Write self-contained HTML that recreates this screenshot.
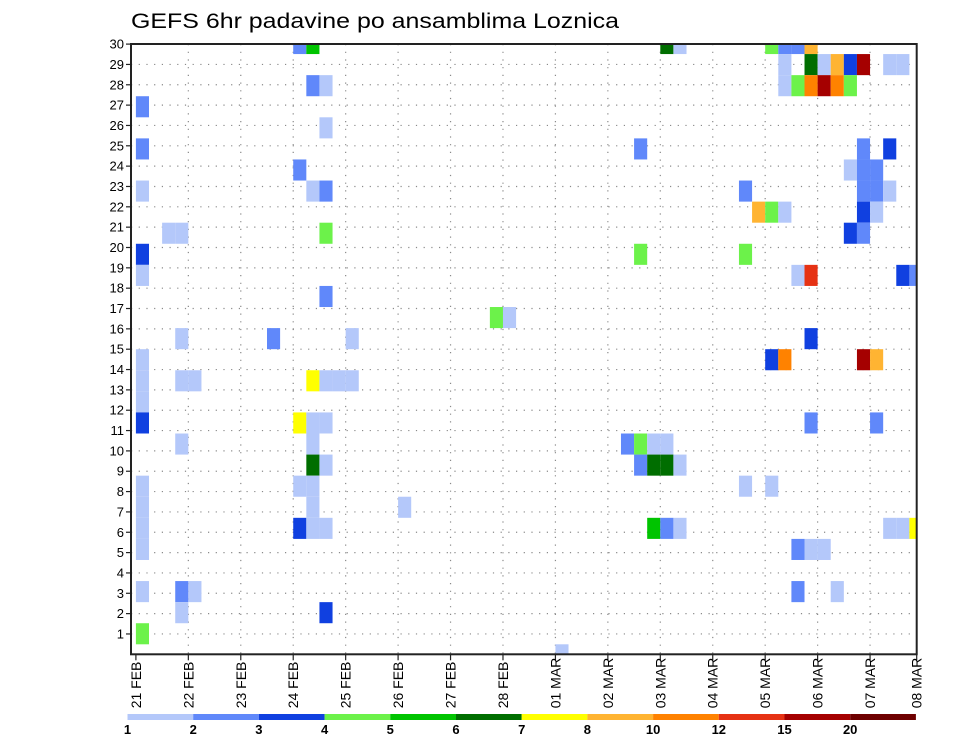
<!DOCTYPE html>
<html><head><meta charset="utf-8"><style>
html,body{margin:0;padding:0;background:#fff;}
svg{display:block;font-family:"Liberation Sans",sans-serif;}
</style></head><body>
<svg id="chart" width="960" height="742" viewBox="0 0 960 742" xmlns="http://www.w3.org/2000/svg">
<defs><clipPath id="pc"><rect x="131" y="44" width="785.7" height="610.3"/></clipPath></defs>
<text x="131" y="28" font-size="21" textLength="488" lengthAdjust="spacingAndGlyphs" fill="#000">GEFS 6hr padavine po ansamblima Loznica</text>
<g id="grid"></g>
<g id="cells" clip-path="url(#pc)"></g>
<rect x="131" y="44" width="785.7" height="610.3" fill="none" stroke="#222" stroke-width="2"/>
<g id="yaxis"></g>
<g id="xaxis"></g>
<g id="legend"></g>
</svg>
<script>
// ---- data ----
const dayLabels = ["21 FEB","22 FEB","23 FEB","24 FEB","25 FEB","26 FEB","27 FEB","28 FEB","01 MAR","02 MAR","03 MAR","04 MAR","05 MAR","06 MAR","07 MAR","08 MAR"];
const memberTicks = [1,2,3,4,5,6,7,8,9,10,11,12,13,14,15,16,17,18,19,20,21,22,23,24,25,26,27,28,29,30];
const levels = [1,2,3,4,5,6,7,8,10,12,15,20];
const colors = ["#b4c8fa","#6088fa","#1040e0","#6cf24a","#00c400","#006e00","#ffff00","#ffb432","#ff8200","#e63214","#a50000","#6e0000"];
// cell time step (6h index), ensemble member row, precipitation value
const cellStep = [12,13,13,14,0,14,0,12,0,13,14,2,3,14,0,0,14,3,10,16,0,0,0,0,0,0,0,0,0,0,3,4,13,14,15,16,12,13,14,3,13,13,14,12,13,13,12,13,14,3,4,3,14,
 20,27,28,32,38,38,37,38,39,40,38,39,40,41,39,40,41,
 40,41,48,49,50,51,49,51,52,53,54,55,57,58,49,50,51,52,53,54,55,57,54,55,56,46,55,56,57,47,48,49,55,56,54,55,46,50,51,58,59,51,48,49,55,56,51,56,46,48,57,58,59,50,51,52,50,53];
const cellMember = [29,29,27,27,26,25,24,23,22,22,22,20,20,20,19,18,17,15,15,15,14,13,12,11,8,7,6,5,3,1,13,13,13,13,13,13,11,11,11,10,10,9,9,8,8,7,6,6,6,3,3,2,2,
 7,16,16,0,24,19,10,10,10,10,9,9,9,9,6,6,6,
 29,29,29,29,29,29,28,28,28,28,28,28,28,28,27,27,27,27,27,27,24,24,23,23,23,22,22,22,22,21,21,21,21,21,20,20,19,18,18,18,18,15,14,14,14,14,11,11,8,8,6,6,6,5,5,5,3,3];
const cellValue = [2.5,5.5,2.5,1.5,2.5,1.5,2.5,2.5,1.5,1.5,2.5,1.5,1.5,4.5,3.5,1.5,2.5,1.5,2.5,1.5,1.5,1.5,1.5,3.5,1.5,1.5,1.5,1.5,1.5,4.5,1.5,1.5,7.5,1.5,1.5,1.5,7.5,1.5,1.5,1.5,1.5,6.5,1.5,1.5,1.5,1.5,3.5,1.5,1.5,2.5,1.5,1.5,3.5,
 1.5,4.5,1.5,1.5,2.5,4.5,2.5,4.5,1.5,1.5,2.5,6.5,6.5,1.5,5.5,2.5,1.5,
 6.5,1.5,4.5,2.5,2.5,9,1.5,6.5,1.5,9,3.5,17,1.5,1.5,1.5,4.5,11,17,11,4.5,2.5,3.5,1.5,2.5,2.5,2.5,2.5,2.5,1.5,9,4.5,1.5,3.5,1.5,3.5,2.5,4.5,1.5,13,3.5,2.5,3.5,3.5,11,17,9,2.5,2.5,1.5,1.5,1.5,1.5,7.5,2.5,1.5,1.5,2.5,1.5];

// ---- scales ----
const NS="http://www.w3.org/2000/svg";
const X0=135.9, DAYW=52.44, STEPW=DAYW/4;
const PL=131, PR=916.7, PT=44, PB=654.3;
function xDay(d){return X0+d*DAYW;}
function xStep(s){return X0+s*STEPW;}
function yTick(r){return PB-20.34*r;}
const CELLH=21.08, CELLB1=644.3;
function yCellTop(m){return CELLB1-CELLH*(m-1)-CELLH;}
function colorFor(v){let c=0;for(let i=0;i<levels.length;i++){if(v>=levels[i])c=i;}return colors[c];}
function mk(tag,attrs,parent){const e=document.createElementNS(NS,tag);for(const k in attrs)e.setAttribute(k,attrs[k]);parent.appendChild(e);return e;}

// grid
const grid=document.getElementById('grid');
memberTicks.forEach(r=>{
  if(r>=30)return;
  const l=mk('line',{x1:PL,x2:PR,y1:yTick(r),y2:yTick(r),stroke:'#8a8a8a','stroke-width':1.2,'stroke-dasharray':'1.2 6.5'},grid);
  
  
});
dayLabels.forEach((d,i)=>{
  const x=xDay(i); if(x>PR||i===0)return;
  const l=mk('line',{x1:x,x2:x,y1:PT,y2:PB,stroke:'#8a8a8a','stroke-width':1.2,'stroke-dasharray':'1.2 6.5'},grid);
  
  
});

// cells
const cells=document.getElementById('cells');
for(let i=0;i<cellStep.length;i++){
  const r=mk('rect',{x:xStep(cellStep[i]),y:yCellTop(cellMember[i]),width:STEPW,height:CELLH,fill:colorFor(cellValue[i])},cells);
  
  
}

// y axis
const ya=document.getElementById('yaxis');
memberTicks.forEach(r=>{
  const y=yTick(r);
  mk('line',{x1:PL-5,x2:PL,y1:y,y2:y,stroke:'#222','stroke-width':1.2},ya);
  const t=mk('text',{x:PL-7,y:y+4.5,'font-size':13,'text-anchor':'end',fill:'#000'},ya);
  t.textContent=r;
  
  
});

// x axis
const xa=document.getElementById('xaxis');
dayLabels.forEach((d,i)=>{
  const x=Math.min(xDay(i),PR);
  mk('line',{x1:x,x2:x,y1:PB,y2:PB+6,stroke:'#222','stroke-width':1.2},xa);
  const t=mk('text',{x:0,y:0,'font-size':14,'text-anchor':'start',fill:'#000',transform:'translate('+(x+5)+','+(PB+54)+') rotate(-90)'},xa);
  t.textContent=d;
  
  
});

// legend
const lg=document.getElementById('legend');
const LX=127.5, LW=65.7;
colors.forEach((c,i)=>{
  const r=mk('rect',{x:LX+i*LW,y:714,width:LW,height:6,fill:c},lg);
  
  
  const t=mk('text',{x:LX+i*LW,y:734,'font-size':13,'font-weight':'bold','text-anchor':'middle',fill:'#000'},lg);
  t.textContent=levels[i];
  
  
});
</script>
</body></html>
